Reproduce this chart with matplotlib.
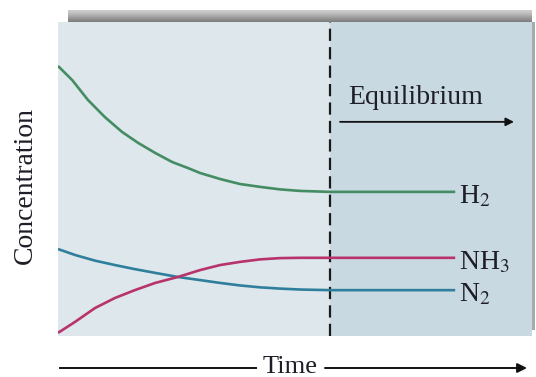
import matplotlib
matplotlib.use("Agg")
import matplotlib.pyplot as plt
import numpy as np
from matplotlib.patches import Rectangle

plt.rcParams['font.family'] = 'Liberation Serif'
plt.rcParams['mathtext.fontset'] = 'stix'

# curves (time 0-10, concentration 0-10, arbitrary units)
t_h2 = [0, 0.30, 0.63, 0.99, 1.35, 1.69, 2.05, 2.41, 2.74, 3.00, 3.42, 3.84,
        4.26, 4.68, 5.11, 5.53, 5.74, 8.38]
c_h2 = [8.60, 8.15, 7.52, 6.97, 6.50, 6.15, 5.83, 5.54, 5.35, 5.19, 5.00, 4.84,
        4.75, 4.67, 4.62, 4.60, 4.59, 4.59]

t_n2 = [0, 0.36, 0.78, 1.20, 1.62, 2.05, 2.53, 3.00, 3.42, 3.84, 4.26, 4.68,
        5.11, 5.74, 8.38]
c_n2 = [2.77, 2.58, 2.40, 2.26, 2.13, 2.01, 1.88, 1.78, 1.69, 1.61, 1.55, 1.51,
        1.48, 1.46, 1.46]

t_nh3 = [0, 0.36, 0.78, 1.20, 1.62, 2.05, 2.53, 3.00, 3.42, 3.84, 4.26, 4.68,
         5.11, 5.74, 8.38]
c_nh3 = [0.10, 0.45, 0.89, 1.21, 1.46, 1.69, 1.88, 2.10, 2.26, 2.36, 2.44, 2.48,
         2.49, 2.49, 2.49]

t_eq = 5.74
labels = ['H$_2$', 'NH$_3$', 'N$_2$']

fig = plt.figure(figsize=(5.36, 3.77), dpi=100)
W, H = 536, 377

# grey shadow band over the top of the panel
band = fig.add_axes([68 / W, 1 - 22 / H, (532 - 68) / W, 12 / H])
grad = np.linspace(0, 1, 20).reshape(-1, 1)
band.imshow(grad, aspect='auto', cmap='Greys', vmin=-1.0, vmax=2.4, extent=[0, 1, 0, 1])
band.axis('off')
fig.add_artist(Rectangle((532 / W, 1 - 330 / H), 3 / W, 308 / H,
                         transform=fig.transFigure, color='#a3abab', lw=0))

ax = fig.add_axes([58 / W, 1 - 336 / H, (532 - 58) / W, (336 - 22) / H])
ax.set_xlim(0, 10)
ax.set_ylim(0, 10)
ax.set_facecolor('#dde7ec')
ax.axvspan(t_eq, 10, color='#c9d9e1', lw=0)
ax.axvline(t_eq, color='#1a1a1a', lw=1.6, ls=(0, (5.5, 2.8)))
for s in ax.spines.values():
    s.set_visible(False)
ax.set_xticks([])
ax.set_yticks([])

ax.plot(t_h2, c_h2, color='#448c62', lw=1.9, solid_capstyle='butt')
ax.plot(t_n2, c_n2, color='#2f7f9c', lw=1.9, solid_capstyle='butt')
ax.plot(t_nh3, c_nh3, color='#b8326c', lw=1.9, solid_capstyle='butt')

ends = [c_h2[-1], c_nh3[-1], c_n2[-1]]
for lab, c in zip(labels, ends):
    ax.text(8.45, c - 0.14, lab, fontsize=20, va='center', ha='left', color='#1e1e28')

ax.text(6.12, 7.58, 'Equilibrium', fontsize=20, va='center', ha='left', color='#1e1e28')
ax.annotate('', xy=(9.62, 6.82), xytext=(5.95, 6.82),
            arrowprops=dict(arrowstyle='-|>', color='#111111', lw=1.3,
                            mutation_scale=12, shrinkA=0, shrinkB=0))

# time axis arrow under the panel
y_t = 1 - 368 / H
fig.text(290 / W, 1 - 367 / H, 'Time', fontsize=19, ha='center', va='center',
         color='#1e1e28')
fig.add_artist(plt.Line2D([60 / W, 256 / W], [y_t, y_t], color='#111111', lw=1.4))
ax.annotate('', xy=(527 / W, y_t), xytext=(325 / W, y_t),
            xycoords='figure fraction', textcoords='figure fraction',
            arrowprops=dict(arrowstyle='-|>', color='#111111', lw=1.4,
                            mutation_scale=14, shrinkA=0, shrinkB=0),
            annotation_clip=False)

fig.text(25 / W, 1 - 185 / H, 'Concentration', fontsize=20, rotation=90,
         ha='center', va='center', color='#1e1e28')

fig.savefig('out.png', dpi=100, facecolor='white')
